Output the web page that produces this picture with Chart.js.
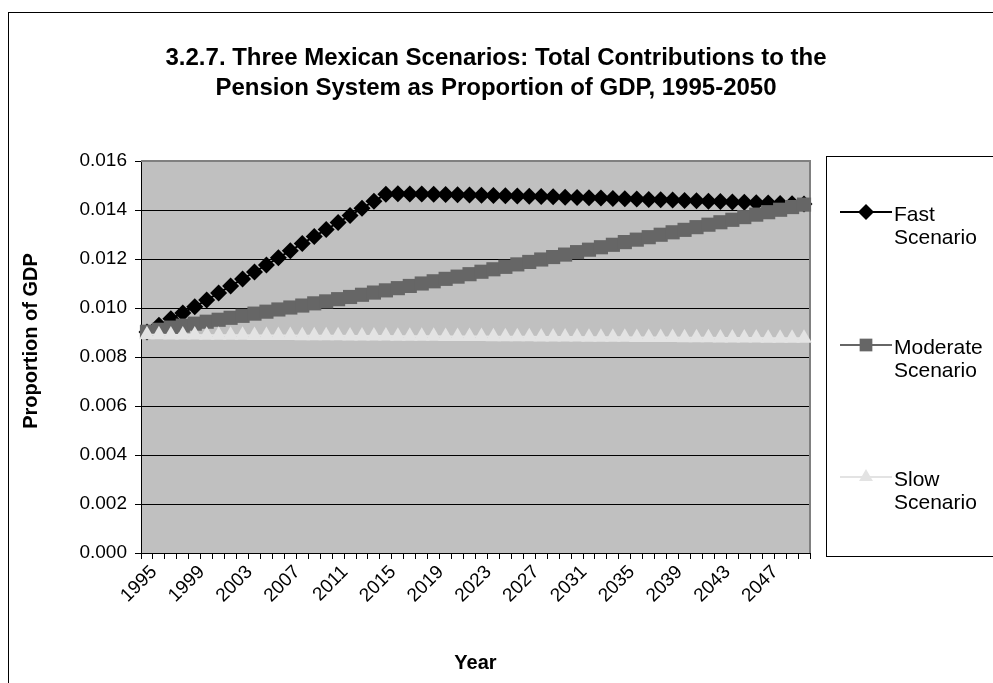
<!DOCTYPE html>
<html>
<head>
<meta charset="utf-8">
<title>Three Mexican Scenarios</title>
<script src="https://cdn.jsdelivr.net/npm/chart.js@4.4.0/dist/chart.umd.min.js"></script>
<style>
  html, body { margin: 0; padding: 0; background: #fff; }
  #wrap { width: 993px; height: 683px; }
</style>
</head>
<body>
<div id="wrap"><canvas id="pensionChart" width="993" height="683"></canvas></div>
<script>
const FONT = "'Liberation Sans', Arial, sans-serif";

const chartTitle = ["3.2.7. Three Mexican Scenarios: Total Contributions to the",
                    "Pension System as Proportion of GDP, 1995-2050"];
const yTitle = "Proportion of GDP";
const xTitle = "Year";

const years = ["1995", "1996", "1997", "1998", "1999", "2000", "2001", "2002", "2003", "2004",
               "2005", "2006", "2007", "2008", "2009", "2010", "2011", "2012", "2013", "2014",
               "2015", "2016", "2017", "2018", "2019", "2020", "2021", "2022", "2023", "2024",
               "2025", "2026", "2027", "2028", "2029", "2030", "2031", "2032", "2033", "2034",
               "2035", "2036", "2037", "2038", "2039", "2040", "2041", "2042", "2043", "2044",
               "2045", "2046", "2047", "2048", "2049", "2050"];

const seriesNames = ["Fast Scenario", "Moderate Scenario", "Slow Scenario"];

const fastValues = [0.00902, 0.00930, 0.00956, 0.00980, 0.01005, 0.01033, 0.01061, 0.01090, 0.01118, 0.01147,
                    0.01176, 0.01205, 0.01234, 0.01263, 0.01292, 0.01320, 0.01349, 0.01378, 0.01407, 0.01436,
                    0.01464, 0.01466, 0.01465, 0.01465, 0.01464, 0.01463, 0.01462, 0.01461, 0.01460, 0.01459,
                    0.01458, 0.01457, 0.01456, 0.01455, 0.01454, 0.01452, 0.01451, 0.01450, 0.01449, 0.01447,
                    0.01446, 0.01445, 0.01443, 0.01442, 0.01441, 0.01439, 0.01438, 0.01436, 0.01435, 0.01433,
                    0.01432, 0.01430, 0.01429, 0.01427, 0.01426, 0.01424];

const moderateValues = [0.00903, 0.00911, 0.00920, 0.00928, 0.00936, 0.00944, 0.00952, 0.00960, 0.00968, 0.00977,
                        0.00985, 0.00994, 0.01002, 0.01010, 0.01019, 0.01027, 0.01036, 0.01045, 0.01054, 0.01063,
                        0.01072, 0.01081, 0.01090, 0.01100, 0.01109, 0.01119, 0.01128, 0.01138, 0.01148, 0.01158,
                        0.01168, 0.01178, 0.01188, 0.01198, 0.01208, 0.01218, 0.01228, 0.01238, 0.01248, 0.01258,
                        0.01269, 0.01279, 0.01289, 0.01299, 0.01309, 0.01319, 0.01330, 0.01340, 0.01350, 0.01360,
                        0.01371, 0.01381, 0.01391, 0.01401, 0.01412, 0.01422];

const slowValues = [0.00891, 0.00891, 0.00890, 0.00890, 0.00890, 0.00889, 0.00889, 0.00889, 0.00889, 0.00888,
                    0.00888, 0.00888, 0.00888, 0.00887, 0.00887, 0.00887, 0.00887, 0.00886, 0.00886, 0.00886,
                    0.00886, 0.00885, 0.00885, 0.00885, 0.00885, 0.00884, 0.00884, 0.00884, 0.00884, 0.00883,
                    0.00883, 0.00883, 0.00883, 0.00882, 0.00882, 0.00882, 0.00882, 0.00881, 0.00881, 0.00881,
                    0.00881, 0.00880, 0.00880, 0.00880, 0.00880, 0.00879, 0.00879, 0.00879, 0.00878, 0.00878,
                    0.00878, 0.00878, 0.00877, 0.00877, 0.00877, 0.00877];

const yMin = 0, yMax = 0.016, yStep = 0.002;

const colors = ["#000000", "#666666", "#e3e3e3"];
const markers = ["rectRot", "rect", "triangle"];

function drawMarker(c, style, x, y, r, color) {
  c.fillStyle = color;
  c.beginPath();
  if (style === "rectRot") {
    c.moveTo(x - r, y); c.lineTo(x, y - r); c.lineTo(x + r, y); c.lineTo(x, y + r);
  } else if (style === "rect") {
    const s = r * Math.SQRT1_2;
    c.rect(x - s, y - s, 2 * s, 2 * s);
  } else {
    c.moveTo(x, y - r); c.lineTo(x + r * 0.866, y + r / 2); c.lineTo(x - r * 0.866, y + r / 2);
  }
  c.closePath();
  c.fill();
}

const framePlugin = {
  id: "frame",
  beforeDraw(chart) {
    const c = chart.ctx, a = chart.chartArea;
    c.save();
    c.fillStyle = "#fff";
    c.fillRect(0, 0, chart.width, chart.height);
    c.strokeStyle = "#000";
    c.lineWidth = 1;
    c.strokeRect(8.5, 12.5, chart.width + 20, chart.height + 20);
    c.fillStyle = "#c0c0c0";
    c.fillRect(a.left, a.top, a.right - a.left, a.bottom - a.top);
    c.restore();
  },
  beforeDatasetsDraw(chart) {
    const c = chart.ctx, a = chart.chartArea;
    c.save();
    c.strokeStyle = "#808080";
    c.lineWidth = 2;
    c.beginPath();
    c.moveTo(a.left, a.top);
    c.lineTo(a.right, a.top);
    c.lineTo(a.right, a.bottom);
    c.stroke();
    c.restore();
  },
  afterDraw(chart) {
    const c = chart.ctx;
    c.save();
    c.fillStyle = "#000";
    c.textAlign = "center";
    c.textBaseline = "middle";
    c.font = "bold 24px " + FONT;
    c.fillText(chartTitle[0], 496, 58);
    c.fillText(chartTitle[1], 496, 88);

    c.font = "bold 20px " + FONT;
    c.save();
    c.translate(31, 341);
    c.rotate(-Math.PI / 2);
    c.fillText(yTitle, 0, 0);
    c.restore();

    // legend
    c.strokeStyle = "#000";
    c.lineWidth = 1;
    c.strokeRect(826.5, 156.5, 200, 400);
    const rows = [212, 345, 477];
    c.font = "21px " + FONT;
    c.textAlign = "left";
    seriesNames.forEach((name, i) => {
      const y = rows[i];
      c.strokeStyle = colors[i];
      c.lineWidth = 2;
      c.beginPath();
      c.moveTo(840, y);
      c.lineTo(892, y);
      c.stroke();
      drawMarker(c, markers[i], 866, y, i === 1 ? 9 : 8, colors[i]);
      c.fillStyle = "#000";
      const words = name.split(" ");
      c.fillText(words[0], 894, y + 3);
      c.fillText(words[1], 894, y + 26);
    });
    c.restore();
  }
};

new Chart(document.getElementById("pensionChart"), {
  type: "line",
  data: {
    labels: years,
    datasets: [
      {
        label: seriesNames[0],
        data: fastValues,
        borderColor: colors[0],
        backgroundColor: colors[0],
        borderWidth: 2,
        pointStyle: markers[0],
        pointRadius: 8.5,
        pointBorderWidth: 0,
        order: 3,
      },
      {
        label: seriesNames[1],
        data: moderateValues,
        borderColor: colors[1],
        backgroundColor: colors[1],
        borderWidth: 2,
        pointStyle: markers[1],
        pointRadius: 10,
        pointBorderWidth: 0,
        order: 2,
      },
      {
        label: seriesNames[2],
        data: slowValues,
        borderColor: colors[2],
        backgroundColor: colors[2],
        borderWidth: 2,
        pointStyle: markers[2],
        pointRadius: 9,
        pointBorderWidth: 0,
        order: 1,
      },
    ],
  },
  options: {
    responsive: false,
    animation: false,
    devicePixelRatio: 1,
    layout: { padding: { top: 161, right: 183, left: 0, bottom: 0 } },
    plugins: {
      legend: { display: false },
      tooltip: { enabled: false },
    },
    scales: {
      x: {
        offset: true,
        grid: { display: true, drawOnChartArea: false, offset: true, tickLength: 6, color: "#000" },
        border: { color: "#000", width: 1 },
        ticks: {
          autoSkip: false,
          minRotation: 45,
          maxRotation: 45,
          padding: 2,
          labelOffset: 7,
          color: "#000",
          font: { family: FONT, size: 19 },
          callback: function (val, index) {
            return index % 4 === 0 ? this.getLabelForValue(val) : "";
          },
        },
        title: {
          display: true,
          text: xTitle,
          color: "#000",
          font: { family: FONT, size: 20, weight: "bold" },
          padding: { top: 0, bottom: 8 },
        },
        afterFit(s) { s.height = 130; },
      },
      y: {
        min: yMin,
        max: yMax,
        grid: { color: "#000", lineWidth: 1, tickLength: 6, tickColor: "#000" },
        border: { color: "#000", width: 1 },
        ticks: {
          stepSize: yStep,
          padding: 8,
          color: "#000",
          font: { family: FONT, size: 19 },
          callback: (v) => v.toFixed(3),
        },
        afterFit(s) { s.width = 141; },
      },
    },
  },
  plugins: [framePlugin],
});
</script>
</body>
</html>
